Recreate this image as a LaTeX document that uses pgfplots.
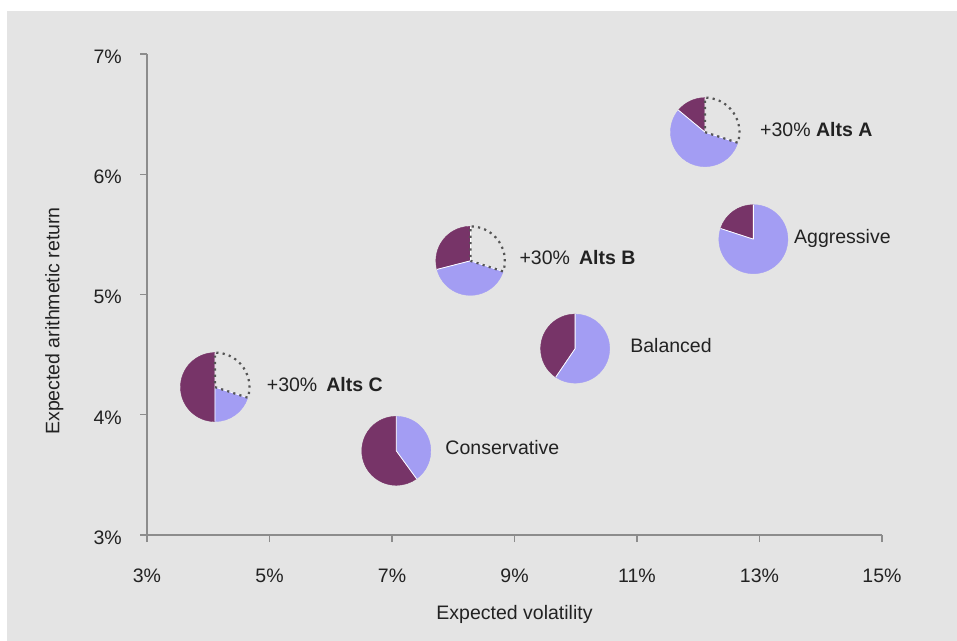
\documentclass[border=0pt]{standalone}
\usepackage{pgfplots}
\pgfplotsset{compat=1.18}
\usepackage{pgfplotstable}
\usepackage{fontspec}
\setmainfont{Liberation Sans}
\definecolor{pdark}{HTML}{773468}
\definecolor{plight}{HTML}{A39DF3}
\definecolor{bggray}{HTML}{E4E4E4}
\definecolor{axgray}{HTML}{8C8C8C}
\definecolor{dotgray}{HTML}{555555}
\definecolor{txt}{HTML}{222222}
\DeclareRobustCommand\altsA{+30\% \textbf{Alts A}}
\DeclareRobustCommand\altsB{+30\%\hspace{9bp}\textbf{Alts B}}
\DeclareRobustCommand\altsC{+30\%\hspace{9bp}\textbf{Alts C}}
\pgfplotstableread[col sep=comma]{
x,y,d,l,t,off,label
7.07,3.70,0.600,0.400,0,49,Conservative
9.99,4.55,0.405,0.595,0,55,Balanced
12.90,5.46,0.200,0.800,0,40.6,Aggressive
12.11,6.35,0.140,0.560,0.30,55,\altsA
8.28,5.28,0.290,0.410,0.30,49,\altsB
4.11,4.23,0.500,0.200,0.30,51.7,\altsC
}\pies
\def\R{34.5bp}
\pgfdeclareplotmark{pie}{%
  \pgfkeys{/pgf/fpu=false}%
  \pgfmathsetmacro\aA{90+360*\pieD}%
  \pgfmathsetmacro\aB{90+360*(\pieD+\pieL)}%
  \fill[pdark] (0pt,0pt) -- (90:\R) arc[start angle=90,end angle=\aA,radius=\R] -- cycle;
  \fill[plight] (0pt,0pt) -- (\aA:\R) arc[start angle=\aA,end angle=\aB,radius=\R] -- cycle;
  \draw[white,line width=0.8bp] (0pt,0pt) -- (90:\R) (0pt,0pt) -- (\aA:\R) (0pt,0pt) -- (\aB:\R);
  \pgfmathparse{\pieT>0.01?1:0}%
  \ifnum\pgfmathresult>0
    \draw[dotgray,line width=2.2bp,dash pattern=on 2.2bp off 4.2bp,line cap=butt]
      (0pt,0pt) -- (\aB:\R) arc[start angle=\aB,end angle=450,radius=\R] -- cycle;
  \fi
}
\begin{document}
\fontsize{19.5bp}{23bp}\selectfont
\begin{tikzpicture}
\fill[white] (-147bp,-106bp) rectangle (810bp,535bp);
\fill[bggray] (-140bp,-106bp) rectangle (810bp,524bp);
\begin{axis}[
  scale only axis, width=735bp, height=481bp,
  xmin=3, xmax=15, ymin=3, ymax=7,
  axis x line*=bottom, axis y line*=left,
  axis line style={axgray, line width=1.3bp},
  x axis line style={axgray, line width=1.3bp},
  y axis line style={axgray, line width=1.3bp},
  tick style={axgray, line width=1.3bp},
  tick align=outside, major tick length=7bp,
  xtick={3,5,7,9,11,13,15}, xticklabels={3\%,5\%,7\%,9\%,11\%,13\%,15\%},
  ytick={3,4,5,6,7}, yticklabels={3\%,4\%,5\%,6\%,7\%},
  tick label style={text=txt, inner sep=0pt},
  xticklabel style={anchor=base, yshift=-40bp},
  yticklabel style={anchor=east, xshift=-18bp, yshift=-2.7bp},
  xlabel={Expected volatility}, ylabel={Expected arithmetic return},
  every axis x label/.style={at={(axis description cs:0.5,0)}, anchor=base, yshift=-84bp, text=txt},
  every axis y label/.style={at={(axis description cs:-0.1193,0.445)}, rotate=90, anchor=base, text=txt},
  clip=false,
]
\addplot[only marks, mark=pie,
  visualization depends on={\thisrow{d}\as\pieD},
  visualization depends on={\thisrow{l}\as\pieL},
  visualization depends on={\thisrow{t}\as\pieT},
] table[x=x,y=y]{\pies};
\addplot[draw=none, mark=none, nodes near coords, point meta=explicit symbolic,
  visualization depends on={\thisrow{off}\as\xoff},
  every node near coord/.style={anchor=base west, inner sep=0pt, xshift=\xoff bp, yshift=-4bp, text=txt},
] table[x=x,y=y,meta=label]{\pies};
\end{axis}
\end{tikzpicture}
\end{document}
